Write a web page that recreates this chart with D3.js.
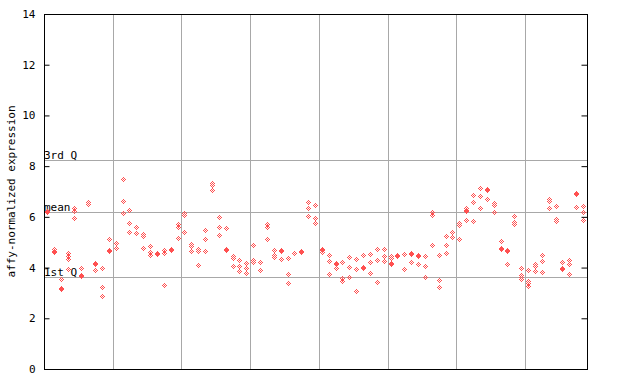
<!DOCTYPE html>
<html><head><meta charset="utf-8">
<script src="https://cdn.jsdelivr.net/npm/d3@7/dist/d3.min.js"></script>
<style>body{margin:0;background:#fff}svg{display:block}text{font-family:"DejaVu Sans Mono",monospace;font-size:11px;fill:#000}</style>
</head><body><svg id="c" width="640" height="384"></svg>
<script>
// Per-sample expression values (79 samples, several probes each)
const sampleValues = [
 [6.2,6.16],[4.73,4.65,4.6],[3.54,3.16,3.12],[4.55,4.42,4.3,3.94],[6.31,6.22,5.93],
 [3.95,3.68,3.64],[6.56,6.47],[4.17,4.13,3.9],[3.98,3.22,2.86],[5.11,4.69,4.62],
 [4.96,4.74],[7.47,6.6,6.13],[6.25,5.74,5.38],[5.58,5.36],[5.3,5.21,4.75],
 [4.84,4.58,4.49],[4.56,4.52],[4.66,4.56,3.3],[4.72,4.68],[5.69,5.6,5.15],
 [6.13,6.04,5.4],[4.91,4.82,4.65],[4.71,4.62,4.08],[5.46,5.11,4.65],[7.31,7.22,7.04],
 [5.97,5.58,5.27],[5.54,4.72,4.68],[4.45,4.36,4.03],[4.29,4.06,3.83],[4.16,3.95,3.77],
 [4.87,4.29,4.2],[4.2,3.9],[5.71,5.6,5.11],[4.66,4.48,4.38],[4.68,4.64,4.33],
 [4.36,3.73,3.38],[4.55],[4.63,4.59],[6.56,6.33,6.01],[6.45,5.94,5.74],
 [4.73,4.69,4.61],[4.48,4.24,3.73],[4.17,4.13,3.97],[4.2,3.57,3.45],[4.4,4.0,3.61],
 [4.32,3.93,3.06],[4.48,4.01,3.97],[4.53,4.2,3.77],[4.71,4.28,3.41],[4.71,4.44,4.25],
 [4.44,4.34,4.18,4.14],[4.46,4.42],[4.52,3.93],[4.54,4.5,4.2],[4.47,4.43,4.12],
 [4.45,4.04,3.61],[6.18,6.05,4.87],[4.48,3.49,3.22],[5.23,4.87,4.56],[5.37,5.19],
 [5.74,5.64,5.11],[6.34,6.27,6.23,5.86],[6.84,6.56,5.82],[7.12,6.8,6.33],[7.07,7.03,6.68],
 [6.52,6.43,6.17],[5.03,4.76,4.72],[4.68,4.64,4.12],[6.0,5.78,5.68],[3.97,3.69,3.6,3.51],
 [3.9,3.45,3.36,3.27],[4.12,4.03,3.83],[4.48,4.24,3.81],[6.7,6.6,6.33],[6.41,5.89,5.8],
 [4.2,3.95,3.91],[4.29,4.12,3.73],[6.92,6.88,6.37],[6.42,6.17,5.86]
];
const samples = sampleValues.map((d,i)=>i);
const groupBreaks = [10,20,30,40,50,60,70];
const yTicks = [0,2,4,6,8,10,12,14];
const refLines = [{label:"3rd Q", value:8.23},{label:"mean", value:6.2},{label:"1st Q", value:3.61}];
const yLabel = "affy-normalized expression";

const svg = d3.select("#c");
const L=44, R=587, T=14, B=369;
const x = d3.scaleBand().domain(samples).range([L,R]);
const y = d3.scaleLinear().domain([0,14]).range([B,T]);

// vertical group gridlines
svg.append("g").selectAll("line").data(groupBreaks).join("line")
  .attr("x1",d=>Math.round(x(d))+0.5).attr("x2",d=>Math.round(x(d))+0.5)
  .attr("y1",T).attr("y2",B).attr("stroke","#a8a8a8").attr("stroke-width",1);

// reference lines
const rg = svg.append("g");
rg.selectAll("line").data(refLines).join("line")
  .attr("x1",L).attr("x2",R).attr("y1",d=>Math.round(y(d.value))+0.5).attr("y2",d=>Math.round(y(d.value))+0.5)
  .attr("stroke","#a8a8a8").attr("stroke-width",1);
rg.selectAll("text").data(refLines).join("text")
  .attr("x",L).attr("y",d=>Math.round(y(d.value))-1).text(d=>d.label);

// points: checkered pixel diamonds
const cells = [[0,-2],[-1,-1],[1,-1],[-2,0],[0,0],[2,0],[-1,1],[1,1],[0,2]];
const diamond = cells.map(([a,b])=>`M${a},${b}h1v1h-1z`).join("");
const pts = [];
sampleValues.forEach((vals,i)=>vals.forEach(v=>pts.push({s:i,v})));
svg.append("g").selectAll("path").data(pts).join("path")
  .attr("transform",d=>`translate(${Math.floor(x(d.s)+x.bandwidth()/2)},${Math.floor(y(d.v))})`)
  .attr("d",diamond)
  .attr("fill","#ff5050")
  .attr("shape-rendering","crispEdges");

// frame
svg.append("rect").attr("x",L+0.5).attr("y",T+0.5).attr("width",R-L).attr("height",B-T)
  .attr("fill","none").attr("stroke","#000").attr("stroke-width",1);

// left axis
const la = svg.append("g").attr("transform",`translate(${L+0.5},0)`)
  .call(d3.axisLeft(y).tickValues(yTicks).tickSize(-5).tickPadding(9).tickFormat(d3.format("d")));
la.select(".domain").remove();
la.selectAll("line").attr("stroke","#000");
la.selectAll("text").style("font-family","DejaVu Sans Mono").style("font-size","11px");
// right axis ticks
const ra = svg.append("g").attr("transform",`translate(${R+0.5},0)`)
  .call(d3.axisRight(y).tickValues(yTicks).tickSize(-6).tickFormat(""));
ra.select(".domain").remove();
ra.selectAll("line").attr("stroke","#000");

// y label
svg.append("text").attr("transform",`translate(15,${(T+B)/2}) rotate(-90)`)
  .attr("text-anchor","middle").text(yLabel);
</script></body></html>
